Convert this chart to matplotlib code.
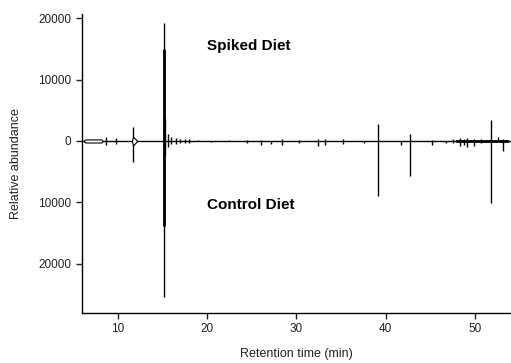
import numpy as np
import matplotlib.pyplot as plt

plt.rcParams['font.family'] = ['Liberation Sans', 'DejaVu Sans']

# spiked diet trace (upward peaks), times in min, heights in abundance
spiked_time = [8.7, 9.8, 11.7, 15.2, 15.35, 15.6, 16.0, 16.5, 17.0, 17.5, 18.0,
               19.0, 22.5, 24.5, 26.0, 28.4, 30.3, 32.4, 33.2, 35.2, 39.1, 42.7,
               45.2, 47.5, 48.3, 48.7, 49.1, 49.9, 50.6, 51.75, 52.5, 53.05]
spiked_height = [600, 500, 2300, 19200, 3500, 1200, 600, 500, 400, 300, 300,
                 200, 150, 150, 200, 300, 200, 400, 300, 250, 2800, 1100,
                 200, 400, 500, 400, 500, 400, 300, 3400, 600, 300]

# control diet trace (downward peaks)
control_time = [8.7, 9.8, 11.7, 15.2, 15.35, 15.6, 16.0, 16.5, 17.0, 17.5, 18.0,
                20.5, 24.5, 26.0, 27.2, 28.4, 30.3, 32.4, 33.2, 35.2, 37.6, 39.1,
                41.7, 42.7, 45.2, 46.7, 47.5, 48.3, 48.7, 49.1, 49.9, 50.6, 51.75,
                53.05]
control_depth = [600, 500, 3500, 25400, 2500, 1000, 500, 500, 400, 300, 300,
                 200, 300, 600, 500, 700, 400, 900, 700, 500, 300, 8900,
                 700, 5700, 600, 400, 300, 900, 600, 1000, 900, 400, 10100,
                 1600]

# thicker overlapping part of the main peak
main_time = [15.2]
main_up = [15000]
main_down = [13800]

# early envelope (6-8.3 min)
env_time = [6.2, 6.4, 8.2, 8.35]
env_upper = [0, 250, 250, 0]
env_lower = [0, -250, -250, 0]

# broad base of the 11.7 min peak
base_time = [11.6, 11.75, 12.2]
base_upper = [0, 700, 0]
base_lower = [0, -700, 0]

fig = plt.figure(figsize=(5.11, 3.63), dpi=100)
ax = fig.add_axes([0.160, 0.138, 0.84, 0.823])

ax.axhline(0, color='black', lw=1.0, zorder=1)
ax.plot([48.0, 53.5], [0, 0], color='black', lw=2.0, zorder=1)
ax.vlines(spiked_time, 0, spiked_height, color='black', lw=1.0)
ax.vlines(control_time, 0, -np.array(control_depth), color='black', lw=1.0)
ax.vlines(main_time, 0, main_up, color='black', lw=2.0)
ax.vlines(main_time, -np.array(main_down), 0, color='black', lw=2.0)
ax.fill_between(env_time, env_lower, env_upper, facecolor='white',
                edgecolor='black', lw=0.8, zorder=3)
ax.fill_between(base_time, base_lower, base_upper, facecolor='white',
                edgecolor='black', lw=0.8, zorder=3)

ax.text(20, 15400, 'Spiked Diet', fontsize=11, fontweight='bold', va='center')
ax.text(20, -10400, 'Control Diet', fontsize=11, fontweight='bold', va='center')

ax.set_xlim(6, 54)
ax.set_ylim(-28000, 20650)
ax.set_xticks([10, 20, 30, 40, 50])
ax.set_yticks([20000, 10000, 0, -10000, -20000])
ax.set_yticklabels(['20000', '10000', '0', '10000', '20000'])
ax.tick_params(labelsize=8.5, colors='#222222', length=4, width=1, direction='out')
for s in ['top', 'right']:
    ax.spines[s].set_visible(False)
for s in ['left', 'bottom']:
    ax.spines[s].set_linewidth(1.0)

ax.set_xlabel('Retention time (min)', fontsize=9, color='#222222', labelpad=9)
ax.set_ylabel('Relative abundance', fontsize=9, color='#222222', labelpad=12)

fig.savefig('out.png', dpi=100)
